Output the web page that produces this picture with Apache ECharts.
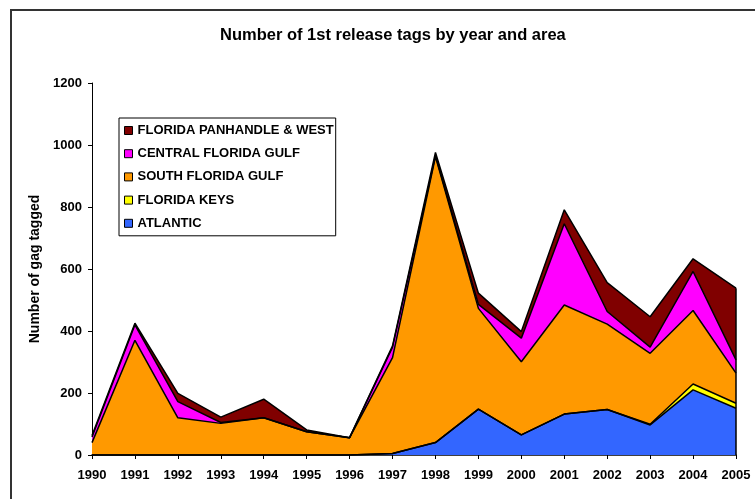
<!DOCTYPE html>
<html>
<head>
<meta charset="utf-8">
<title>Number of 1st release tags by year and area</title>
<script src="https://cdn.jsdelivr.net/npm/echarts@6/dist/echarts.min.js"></script>
<style>
  html, body { margin: 0; padding: 0; background: #fff; }
  #chart { width: 755px; height: 499px; }
</style>
</head>
<body>
<div id="chart"></div>
<script>
// years on the x axis
const years = ['1990', '1991', '1992', '1993', '1994', '1995', '1996', '1997',
  '1998', '1999', '2000', '2001', '2002', '2003', '2004', '2005'];

// number of gag tagged per area
const atlantic     = [0, 0, 0, 0, 0, 0, 0, 5, 40, 148, 65, 132, 147, 97, 210, 151];
const floridaKeys  = [0, 0, 0, 0, 0, 0, 0, 0, 0, 0, 0, 0, 0, 2, 19, 16];
const southGulf    = [40, 370, 120, 102, 120, 75, 56, 309, 923, 325, 236, 352, 275, 229, 237, 97];
const centralGulf  = [18, 50, 52, 3, 0, 0, 0, 34, 3, 13, 76, 262, 41, 20, 126, 43];
const panhandle    = [5, 5, 27, 17, 60, 6, 0, 4, 10, 36, 21, 45, 93, 98, 41, 231];

const yTicks = [0, 200, 400, 600, 800, 1000, 1200];

const font = '"Liberation Sans", Arial, sans-serif';

const areas = [
  { name: 'ATLANTIC', data: atlantic, color: '#3366ff' },
  { name: 'FLORIDA KEYS', data: floridaKeys, color: '#ffff00' },
  { name: 'SOUTH FLORIDA GULF', data: southGulf, color: '#ff9900' },
  { name: 'CENTRAL FLORIDA GULF', data: centralGulf, color: '#ff00ff' },
  { name: 'FLORIDA PANHANDLE & WEST', data: panhandle, color: '#800000' },
];

// stack total in the last year, used to close the right edge of the areas
const last = years.length - 1;
const lastTotal = areas.reduce((s, a) => s + a.data[last], 0);

const chart = echarts.init(document.getElementById('chart'), null, { renderer: 'canvas' });

const option = {
  backgroundColor: '#fff',
  animation: false,
  title: {
    text: 'Number of 1st release tags by year and area',
    left: 215,
    top: 22,
    textStyle: { fontFamily: font, fontSize: 16.5, fontWeight: 'bold', color: '#000' },
  },
  legend: {
    data: areas.map((a) => a.name).reverse(),
    orient: 'vertical',
    left: 119,
    top: 118,
    padding: [6, 2, 6, 5],
    itemGap: 10.2,
    itemWidth: 8,
    itemHeight: 8,
    icon: 'rect',
    borderColor: '#000',
    borderWidth: 1,
    backgroundColor: '#fff',
    itemStyle: { borderColor: '#000', borderWidth: 1 },
    textStyle: { fontFamily: font, fontSize: 13, fontWeight: 'bold', color: '#000' },
  },
  grid: { left: 92, right: 19, top: 83, bottom: 44 },
  xAxis: {
    type: 'category',
    data: years,
    boundaryGap: false,
    axisLine: { lineStyle: { color: '#000', width: 1.5 } },
    axisTick: { show: true, length: 4, lineStyle: { color: '#000' } },
    axisLabel: { color: '#000', fontFamily: font, fontSize: 13, fontWeight: 'bold', margin: 14, interval: 0 },
  },
  yAxis: {
    type: 'value',
    min: yTicks[0],
    max: yTicks[yTicks.length - 1],
    interval: yTicks[1] - yTicks[0],
    name: 'Number of gag tagged',
    nameLocation: 'middle',
    nameGap: 48,
    nameTextStyle: { fontFamily: font, fontSize: 14, fontWeight: 'bold', color: '#000' },
    axisLine: { show: true, lineStyle: { color: '#000', width: 1 } },
    axisTick: { show: true, length: 4, lineStyle: { color: '#000' } },
    axisLabel: {
      color: '#000', fontFamily: font, fontSize: 13, fontWeight: 'bold', margin: 10,
      formatter: (v) => String(v),
    },
    splitLine: { show: false },
  },
  series: areas.map((a, i) => ({
    name: a.name,
    type: 'line',
    stack: 'total',
    data: a.data,
    symbol: 'none',
    itemStyle: { color: a.color, borderColor: '#000', borderWidth: 1 },
    lineStyle: { color: '#000', width: 1.5 },
    areaStyle: { color: a.color, opacity: 1 },
    markLine: i === areas.length - 1 ? {
      silent: true,
      symbol: 'none',
      label: { show: false },
      lineStyle: { color: '#000', width: 1.5, type: 'solid' },
      data: [[{ coord: [years[last], 0] }, { coord: [years[last], lastTotal] }]],
    } : undefined,
  })),
  graphic: [
    // outer frame of the original chart (left and top edges)
    { type: 'line', shape: { x1: 11, y1: 10, x2: 11, y2: 499 }, style: { stroke: '#333', lineWidth: 2 } },
    { type: 'line', shape: { x1: 10, y1: 10, x2: 755, y2: 10 }, style: { stroke: '#333', lineWidth: 2 } },
  ],
};

chart.setOption(option);
</script>
</body>
</html>
